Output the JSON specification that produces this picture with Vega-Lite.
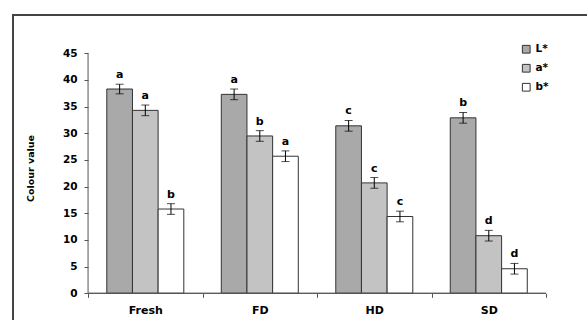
{
  "$schema": "https://vega.github.io/schema/vega-lite/v6.json",
  "width": 580,
  "height": 320,
  "autosize": {"type": "none"},
  "padding": {"left": 13, "top": 15, "right": -6, "bottom": -15},
  "background": "white",
  "config": {
    "view": {"stroke": "#444444", "strokeWidth": 2},
    "font": "DejaVu Sans",
    "axisY": {
      "labelOverlap": false,
      "domain": false,
      "grid": false,
      "tickSize": 4,
      "tickColor": "#555555",
      "labelFont": "DejaVu Sans",
      "labelFontWeight": "bold",
      "labelFontSize": 10.5,
      "labelColor": "#000000",
      "labelPadding": 7,
      "titleFont": "DejaVu Sans",
      "titleFontWeight": "bold",
      "titleFontSize": 9.5,
      "titleColor": "#000000"
    }
  },
  "datasets": {
    "main": [
      {"cat": "Fresh", "series": "L*", "value": 38.3, "lo": 37.4, "hi": 39.2, "letter": "a"},
      {"cat": "Fresh", "series": "a*", "value": 34.3, "lo": 33.3, "hi": 35.3, "letter": "a"},
      {"cat": "Fresh", "series": "b*", "value": 15.8, "lo": 14.8, "hi": 16.8, "letter": "b"},
      {"cat": "FD", "series": "L*", "value": 37.3, "lo": 36.3, "hi": 38.3, "letter": "a"},
      {"cat": "FD", "series": "a*", "value": 29.5, "lo": 28.5, "hi": 30.5, "letter": "b"},
      {"cat": "FD", "series": "b*", "value": 25.7, "lo": 24.7, "hi": 26.7, "letter": "a"},
      {"cat": "HD", "series": "L*", "value": 31.4, "lo": 30.4, "hi": 32.4, "letter": "c"},
      {"cat": "HD", "series": "a*", "value": 20.7, "lo": 19.7, "hi": 21.7, "letter": "c"},
      {"cat": "HD", "series": "b*", "value": 14.4, "lo": 13.4, "hi": 15.4, "letter": "c"},
      {"cat": "SD", "series": "L*", "value": 32.9, "lo": 31.9, "hi": 33.9, "letter": "b"},
      {"cat": "SD", "series": "a*", "value": 10.8, "lo": 9.8, "hi": 11.8, "letter": "d"},
      {"cat": "SD", "series": "b*", "value": 4.6, "lo": 3.6, "hi": 5.6, "letter": "d"}
    ],
    "cats": [{"cat": "Fresh"}, {"cat": "FD"}, {"cat": "HD"}, {"cat": "SD"}],
    "first": [{"cat": "Fresh"}]
  },
  "data": {"name": "main"},
  "encoding": {
    "x": {
      "field": "cat",
      "type": "nominal",
      "sort": ["Fresh", "FD", "HD", "SD"],
      "scale": {"paddingInner": 0, "paddingOuter": 0.533, "align": 0.615},
      "axis": {
        "title": null,
        "orient": "bottom",
        "offset": -41.7,
        "domain": false,
        "tickBand": "extent",
        "tickSize": 4,
        "tickColor": "#555555",
        "labelAngle": 0,
        "labelFont": "DejaVu Sans",
        "labelFontWeight": "bold",
        "labelFontSize": 11,
        "labelColor": "#000000",
        "labelPadding": 7
      }
    }
  },
  "layer": [
    {
      "mark": {"type": "bar", "stroke": "#333333", "strokeWidth": 1},
      "encoding": {
        "xOffset": {
          "field": "series",
          "type": "nominal",
          "sort": ["L*", "a*", "b*"],
          "scale": {"paddingInner": 0, "paddingOuter": 0.73}
        },
        "y": {
          "field": "value",
          "type": "quantitative",
          "scale": {"domain": [-7.82, 52.18], "nice": false, "zero": false},
          "axis": {"orient": "left", "offset": -75, "values": [0, 5, 10, 15, 20, 25, 30, 35, 40, 45], "labelOverlap": false, "title": "Colour value", "titleX": -53, "titleY": 153}
        },
        "y2": {"datum": 0},
        "color": {
          "field": "series",
          "type": "nominal",
          "sort": ["L*", "a*", "b*"],
          "scale": {"domain": ["L*", "a*", "b*"], "range": ["#a9a9a9", "#c3c3c3", "#ffffff"]},
          "legend": {
            "title": null,
            "orient": "none",
            "legendX": 508,
            "legendY": 29,
            "symbolType": "square",
            "symbolSize": 60,
            "symbolStrokeColor": "#333333",
            "symbolStrokeWidth": 1,
            "symbolOpacity": 1,
            "labelFont": "DejaVu Sans",
            "labelFontWeight": "bold",
            "labelFontSize": 10.5,
            "labelColor": "#000000",
            "labelOffset": 4,
            "rowPadding": 6
          }
        }
      }
    },
    {
      "mark": {"type": "rule", "color": "#000000", "strokeWidth": 1},
      "encoding": {
        "xOffset": {"field": "series", "type": "nominal", "sort": ["L*", "a*", "b*"]},
        "y": {"field": "lo", "type": "quantitative", "axis": {"orient": "left", "offset": -75, "values": [0, 5, 10, 15, 20, 25, 30, 35, 40, 45], "labelOverlap": false, "title": "Colour value", "titleX": -53, "titleY": 153}},
        "y2": {"field": "hi"}
      }
    },
    {
      "mark": {"type": "tick", "color": "#000000", "size": 8, "thickness": 1, "orient": "horizontal"},
      "encoding": {
        "xOffset": {"field": "series", "type": "nominal", "sort": ["L*", "a*", "b*"]},
        "y": {"field": "lo", "type": "quantitative", "axis": {"orient": "left", "offset": -75, "values": [0, 5, 10, 15, 20, 25, 30, 35, 40, 45], "labelOverlap": false, "title": "Colour value", "titleX": -53, "titleY": 153}}
      }
    },
    {
      "mark": {"type": "tick", "color": "#000000", "size": 8, "thickness": 1, "orient": "horizontal"},
      "encoding": {
        "xOffset": {"field": "series", "type": "nominal", "sort": ["L*", "a*", "b*"]},
        "y": {"field": "hi", "type": "quantitative", "axis": {"orient": "left", "offset": -75, "values": [0, 5, 10, 15, 20, 25, 30, 35, 40, 45], "labelOverlap": false, "title": "Colour value", "titleX": -53, "titleY": 153}}
      }
    },
    {
      "mark": {"type": "text", "font": "DejaVu Sans", "fontWeight": "bold", "fontSize": 11, "color": "#000000", "baseline": "middle", "dy": -9},
      "encoding": {
        "xOffset": {"field": "series", "type": "nominal", "sort": ["L*", "a*", "b*"]},
        "y": {"field": "hi", "type": "quantitative", "axis": {"orient": "left", "offset": -75, "values": [0, 5, 10, 15, 20, 25, 30, 35, 40, 45], "labelOverlap": false, "title": "Colour value", "titleX": -53, "titleY": 153}},
        "text": {"field": "letter"}
      }
    },
    {
      "data": {"name": "first"},
      "mark": {"type": "rule", "color": "#555555", "strokeWidth": 1},
      "encoding": {
        "x": {"field": "cat", "type": "nominal", "bandPosition": 0},
        "y": {"datum": 0, "axis": {"orient": "left", "offset": -75, "values": [0, 5, 10, 15, 20, 25, 30, 35, 40, 45], "labelOverlap": false, "title": "Colour value", "titleX": -53, "titleY": 153}},
        "y2": {"datum": 45}
      }
    },
    {
      "data": {"name": "cats"},
      "mark": {"type": "bar", "fill": "transparent", "stroke": "#555555", "strokeWidth": 1},
      "encoding": {
        "y": {"datum": 0, "axis": {"orient": "left", "offset": -75, "values": [0, 5, 10, 15, 20, 25, 30, 35, 40, 45], "labelOverlap": false, "title": "Colour value", "titleX": -53, "titleY": 153}},
        "y2": {"datum": 0}
      }
    }
  ]
}
